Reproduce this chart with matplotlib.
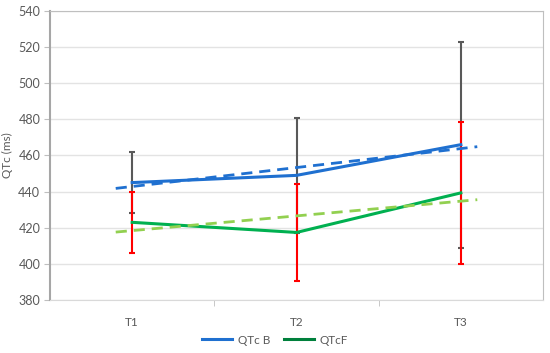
import numpy as np
import matplotlib
matplotlib.use("Agg")
import matplotlib.pyplot as plt
from matplotlib.lines import Line2D

plt.rcParams['font.family'] = ['Lato', 'DejaVu Sans']

times = ["T1", "T2", "T3"]
qtc_b = [445, 449, 466]
qtc_b_sd = [17, 32, 57]
qtc_f = [423, 417.4, 439.3]
qtc_f_sd = [17, 27, 39.5]

blue = "#1F70D0"
green = "#00B050"
lgreen = "#92D050"
txt = "#595959"

x = np.arange(1, len(times) + 1)

fig = plt.figure(figsize=(5.5, 3.53), dpi=100)
ax = fig.add_axes([50 / 550, 53 / 353, 493 / 550, 289 / 353])

ax.errorbar(x, qtc_b, yerr=qtc_b_sd, fmt="none", ecolor="#595959",
            elinewidth=1.5, capsize=2.2, capthick=1.5, zorder=3)
ax.errorbar(x, qtc_f, yerr=qtc_f_sd, fmt="none", ecolor="#FF0000",
            elinewidth=1.5, capsize=2.2, capthick=1.5, zorder=4)

ax.plot(x, qtc_b, color=blue, lw=2.2, zorder=5)
ax.plot(x, qtc_f, color=green, lw=2.2, zorder=5)

# linear trend lines, extended 0.1 each side
xt = np.array([x[0] - 0.1, x[-1] + 0.1])
pb = np.polyfit(x, qtc_b, 1)
pf = np.polyfit(x, qtc_f, 1)
ax.plot(xt, np.polyval(pb, xt), color=blue, lw=2, ls=(0, (4, 2.5)), zorder=6)
ax.plot(xt, np.polyval(pf, xt), color=lgreen, lw=2, ls=(0, (4, 2.5)), zorder=6)

ax.set_xlim(0.5, 3.5)
ax.set_ylim(380, 540)
ax.set_yticks(np.arange(380, 541, 20))
ax.set_xticks(x)
ax.set_xticklabels(times)
ax.set_xticks([1.5, 2.5], minor=True)
ax.tick_params(axis="x", which="major", length=0, pad=12, labelsize=8.5, colors=txt)
ax.tick_params(axis="x", which="minor", length=4, color="#BFBFBF")
ax.tick_params(axis="y", length=4, color="#BFBFBF", labelsize=9, colors=txt, pad=3)
ax.grid(axis="y", color="#E3E3E3", lw=1)
ax.set_axisbelow(True)
for s in ax.spines.values():
    s.set_color("#BFBFBF")
ax.spines["left"].set_color("#A6A6A6")
ax.spines["left"].set_linewidth(1.5)
ax.spines["bottom"].set_color("#D9D9D9")
ax.spines["top"].set_color("#BFBFBF")

ax.set_ylabel("QTc (ms)", fontsize=8.5, color=txt, labelpad=4)

handles = [Line2D([], [], color=blue, lw=2.2),
           Line2D([], [], color="#00803C", lw=2.2)]
fig.legend(handles, ["QTc B", "QTcF"], loc="center", bbox_to_anchor=(0.5, 1 - 340 / 353),
           ncol=2, frameon=False, fontsize=8.5, handlelength=2.5, columnspacing=1.2,
           handletextpad=0.5, labelcolor=txt)

fig.savefig("out.png", dpi=100)
